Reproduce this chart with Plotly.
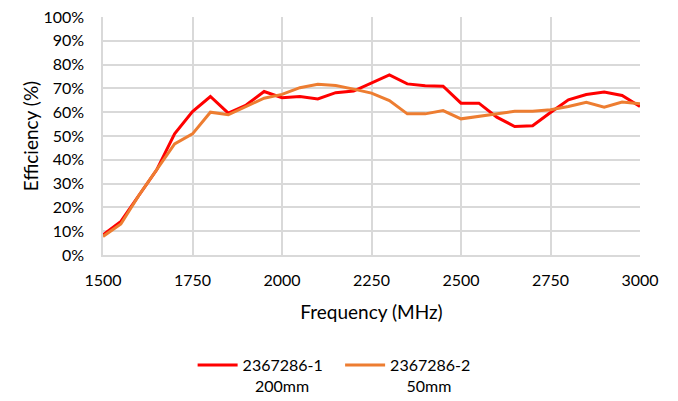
import plotly.graph_objects as go

# Frequência de 1500 a 3000 MHz, passo de 50 MHz
frequencia = [1500, 1550, 1600, 1650, 1700, 1750, 1800, 1850, 1900, 1950,
              2000, 2050, 2100, 2150, 2200, 2250, 2300, 2350, 2400, 2450,
              2500, 2550, 2600, 2650, 2700, 2750, 2800, 2850, 2900, 2950, 3000]

eficiencia_200mm = [8.5, 14.1, 25.0, 35.8, 50.9, 60.3, 66.6, 59.6, 63.0, 68.7,
                    66.1, 66.6, 65.6, 68.2, 68.9, 72.4, 75.7, 71.9, 71.1, 70.9,
                    63.8, 63.8, 57.9, 54.0, 54.3, 59.9, 65.2, 67.4, 68.5, 67.0, 62.4]

eficiencia_50mm = [7.8, 13.0, 25.0, 35.8, 46.7, 50.9, 60.0, 58.9, 62.4, 65.9,
                   67.5, 70.3, 71.7, 71.2, 69.7, 68.0, 64.9, 59.3, 59.3, 60.7,
                   57.2, 58.2, 59.2, 60.4, 60.4, 61.0, 62.4, 64.2, 62.1, 64.3, 63.5]

nomes = ['2367286-1\u00a0\u00a0\u00a0<br>\u00a0\u00a0\u00a0200mm', '2367286-2<br>\u00a0\u00a0\u00a0\u00a050mm']

fig = go.Figure()
fig.add_trace(go.Scatter(x=frequencia, y=eficiencia_200mm, mode='lines', name=nomes[0],
                         line=dict(color='#FF0000', width=3)))
fig.add_trace(go.Scatter(x=frequencia, y=eficiencia_50mm, mode='lines', name=nomes[1],
                         line=dict(color='#ED7D31', width=3)))

# a página tem margem de 8px no body, por isso as margens são deslocadas
fig.update_layout(
    width=678, height=401,
    margin=dict(l=95, r=46, t=9, b=154),
    paper_bgcolor='white', plot_bgcolor='white',
    font=dict(family='Lato', size=16, color='#000000'),
    showlegend=True,
    legend=dict(orientation='h', xref='container', x=0.481, xanchor='center',
                yref='container', y=0.152, yanchor='top',
                valign='top', font=dict(size=16), itemwidth=40),
)
fig.update_xaxes(range=[1500, 3000], tickvals=[1500, 1750, 2000, 2250, 2500, 2750, 3000],
                 showgrid=True, gridcolor='#d9d9d9', gridwidth=1.5,
                 showline=True, linecolor='#d9d9d9', linewidth=1.5, zeroline=False,
                 ticks='outside', ticklen=10, tickcolor='rgba(0,0,0,0)', automargin=False,
                 ticklabeloverflow='allow',
                 title=dict(text='Frequency (MHz)', standoff=18))
fig.update_yaxes(range=[0, 100], dtick=10, ticksuffix='%',
                 showgrid=True, gridcolor='#d9d9d9', gridwidth=1.5,
                 showline=True, linecolor='#d9d9d9', linewidth=1.5, zeroline=False,
                 ticks='outside', ticklen=14, tickcolor='rgba(0,0,0,0)', automargin=False,
                 ticklabeloverflow='allow',
                 title=dict(text='Efficiency (%)', standoff=0))

fig.write_html('out.html')
